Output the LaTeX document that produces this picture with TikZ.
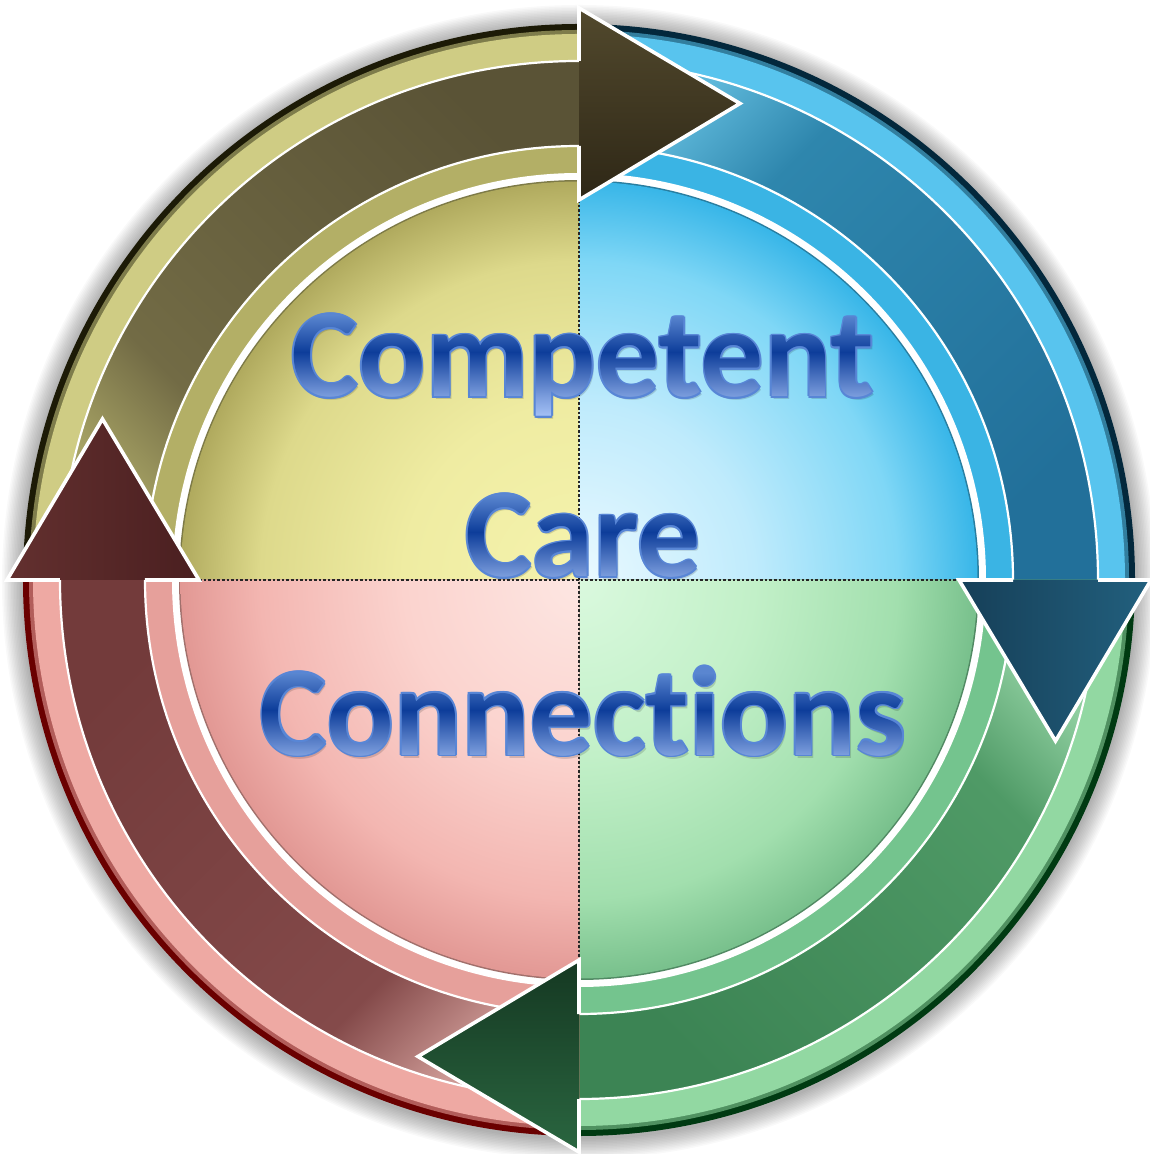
\documentclass[tikz,border=0pt]{standalone}
\usepackage{fontspec}
\setmainfont{Carlito}[Ligatures={NoCommon}]
\usetikzlibrary{fadings}

% quadrant palettes: rim, outer ring, inner band, shaft (start/body/end), head (base/tip), disc stops
\definecolor{rimTL}{HTML}{1C1A06}\definecolor{ringTL}{HTML}{CFCC84}\definecolor{bandTL}{HTML}{B3AF66}
\definecolor{shATL}{HTML}{A6A264}\definecolor{shMTL}{HTML}{726B45}\definecolor{shBTL}{HTML}{5A5336}
\definecolor{hdATL}{HTML}{52492D}\definecolor{hdBTL}{HTML}{2E2716}
\definecolor{dTLa}{HTML}{F5F3AD}\definecolor{dTLb}{HTML}{EFECA2}\definecolor{dTLc}{HTML}{DDD98B}\definecolor{dTLd}{HTML}{B0AA5E}

\definecolor{rimTR}{HTML}{03283C}\definecolor{ringTR}{HTML}{58C4EE}\definecolor{bandTR}{HTML}{3AB4E4}
\definecolor{shATR}{HTML}{5EB8DA}\definecolor{shMTR}{HTML}{2E86AD}\definecolor{shBTR}{HTML}{22709A}
\definecolor{hdATR}{HTML}{22607E}\definecolor{hdBTR}{HTML}{163F58}
\definecolor{dTRa}{HTML}{EAF9FF}\definecolor{dTRb}{HTML}{BFEBFC}\definecolor{dTRc}{HTML}{7FD7F6}\definecolor{dTRd}{HTML}{38B6E8}

\definecolor{rimBR}{HTML}{003A12}\definecolor{ringBR}{HTML}{92D8A2}\definecolor{bandBR}{HTML}{74C48E}
\definecolor{shABR}{HTML}{8ECE9F}\definecolor{shMBR}{HTML}{4F9A66}\definecolor{shBBR}{HTML}{3C8454}
\definecolor{hdABR}{HTML}{2A6640}\definecolor{hdBBR}{HTML}{153822}
\definecolor{dBRa}{HTML}{DAF9DE}\definecolor{dBRb}{HTML}{C2F0C8}\definecolor{dBRc}{HTML}{A2DFAE}\definecolor{dBRd}{HTML}{78C08C}

\definecolor{rimBL}{HTML}{6A0000}\definecolor{ringBL}{HTML}{EEA9A3}\definecolor{bandBL}{HTML}{E6A09B}
\definecolor{shABL}{HTML}{CC9894}\definecolor{shMBL}{HTML}{844A4A}\definecolor{shBBL}{HTML}{733B3B}
\definecolor{hdABL}{HTML}{63302F}\definecolor{hdBBL}{HTML}{4A1F20}
\definecolor{dBLa}{HTML}{FDE6E2}\definecolor{dBLb}{HTML}{FBD3CE}\definecolor{dBLc}{HTML}{F3B6B1}\definecolor{dBLd}{HTML}{E29894}

% title lettering
\definecolor{tdark}{HTML}{0D3D9A}
\definecolor{tlight}{HTML}{A8C4F8}
\definecolor{ttop}{HTML}{5A86D0}
\definecolor{tedge}{HTML}{5886D6}

% radial fills of the inner discs (the disc edge sits at 25bp)
\pgfdeclareradialshading{discTL}{\pgfpoint{0bp}{0bp}}{color(0bp)=(dTLa); color(11bp)=(dTLb); color(20bp)=(dTLc); color(25bp)=(dTLd); color(50bp)=(dTLd)}
\pgfdeclareradialshading{discTR}{\pgfpoint{0bp}{0bp}}{color(0bp)=(dTRa); color(11bp)=(dTRb); color(20bp)=(dTRc); color(25bp)=(dTRd); color(50bp)=(dTRd)}
\pgfdeclareradialshading{discBR}{\pgfpoint{0bp}{0bp}}{color(0bp)=(dBRa); color(11bp)=(dBRb); color(20bp)=(dBRc); color(25bp)=(dBRd); color(50bp)=(dBRd)}
\pgfdeclareradialshading{discBL}{\pgfpoint{0bp}{0bp}}{color(0bp)=(dBLa); color(11bp)=(dBLb); color(20bp)=(dBLc); color(25bp)=(dBLd); color(50bp)=(dBLd)}

% arrow shafts: light just after the previous head, then a steady body colour
\pgfdeclarehorizontalshading{shaftTL}{100bp}{color(0bp)=(shATL); color(25bp)=(shATL); color(36bp)=(shMTL); color(75bp)=(shBTL); color(100bp)=(shBTL)}
\pgfdeclarehorizontalshading{shaftTR}{100bp}{color(0bp)=(shATR); color(25bp)=(shATR); color(36bp)=(shMTR); color(75bp)=(shBTR); color(100bp)=(shBTR)}
\pgfdeclarehorizontalshading{shaftBR}{100bp}{color(0bp)=(shABR); color(25bp)=(shABR); color(36bp)=(shMBR); color(75bp)=(shBBR); color(100bp)=(shBBR)}
\pgfdeclarehorizontalshading{shaftBL}{100bp}{color(0bp)=(shABL); color(25bp)=(shABL); color(36bp)=(shMBL); color(75bp)=(shBBL); color(100bp)=(shBBL)}

% vertical ramp of the lettering; the 300-unit box spans 25bp..75bp, baseline at 50bp
\pgfdeclareverticalshading{letters}{100bp}{color(0bp)=(tlight); color(46.5bp)=(tlight); color(50bp)=(tdark!28!tlight); color(57.5bp)=(tdark); color(63.7bp)=(ttop); color(100bp)=(ttop)}

\tikzset{
  masktext/.style={anchor=base, inner sep=0pt, text=transparent!0,
    font=\fontsize{63}{63}\selectfont\bfseries},
}

% glyph masks, each with its baseline centre at the middle of its box
\begin{tikzfadingfrompicture}[name=fadeCompetent, x=0.5pt, y=0.5pt]
  \useasboundingbox (-700,-150) rectangle (700,150);
  \node[masktext] (competent) at (0,0) {Competent};
\end{tikzfadingfrompicture}
\begin{tikzfadingfrompicture}[name=fadeCare, x=0.5pt, y=0.5pt]
  \useasboundingbox (-700,-150) rectangle (700,150);
  \node[masktext] (care) at (0,0) {Care};
\end{tikzfadingfrompicture}
\begin{tikzfadingfrompicture}[name=fadeConnections, x=0.5pt, y=0.5pt]
  \useasboundingbox (-700,-150) rectangle (700,150);
  \node[masktext] (connections) at (0,0) {Connections};
\end{tikzfadingfrompicture}

% paints one line of lettering: shadow, thin edge, then the blue ramp
\newcommand{\lettering}[3]{%
  \fill[black, opacity=0.14, path fading=#1, fit fading=false,
        fading transform={shift={({#2+2},{#3-3})}}]
    ({#2+2-700},{#3-3-150}) rectangle ({#2+2+700},{#3-3+150});
  \foreach \dx/\dy in {1.6/0,-1.6/0,0/1.6,0/-1.6,1.1/1.1,-1.1/1.1,1.1/-1.1,-1.1/-1.1}
    \fill[tedge, path fading=#1, fit fading=false,
          fading transform={shift={({#2+\dx},{#3+\dy})}}]
      ({#2+\dx-700},{#3+\dy-150}) rectangle ({#2+\dx+700},{#3+\dy+150});
  \shade[shading=letters, path fading=#1, fit fading=false,
         fading transform={shift={(#2,#3)}}]
    ({#2-700},{#3-150}) rectangle ({#2+700},{#3+150});
}

\begin{document}
\begin{tikzpicture}[x=0.5pt,y=0.5pt,
  divider/.style={draw=black!85, line width=1.2pt, dash pattern=on 1.3pt off 1pt},
  headbox/.style={draw=white, line width=1.8pt, line join=miter},
  seam/.style={draw=white, line width=1.1pt},
]
\fill[white] (-579,-574) rectangle (570,580);
\useasboundingbox (-579,-574) rectangle (570,580);

% soft shadow round the disc
\foreach \i in {1,...,14}
  \fill[black, opacity=0.025] (0,-2) circle ({556+1.5*\i});

% the four quadrants: rim, rings, inner disc and the shaft of each arrow
\foreach \a/\q in {180/TL,90/TR,0/BR,270/BL} {
  \pgfmathsetmacro\sa{\a-135}
  \begin{scope}
    \clip (0,0) -- (\a:800) -- ({\a-45}:1132) -- ({\a-90}:800) -- cycle;
    \fill[rim\q] (0,0) circle (556);
    \fill[ring\q!55!rim\q] (0,0) circle (550);
    \fill[ring\q] (0,0) circle (546);
    \fill[band\q] (0,0) circle (433);
    \fill[white] (0,0) circle (407);
    \fill[band\q!70!black] (0,0) circle (400);
    \shade[shading=disc\q] (0,0) circle (398.5);
    \shade[shading=shaft\q, shading angle=\sa]
      (\a:434) -- (\a:519) arc[start angle=\a, end angle=\a-90, radius=519]
      -- ({\a-90}:434) arc[start angle=\a-90, end angle=\a, radius=434] -- cycle;
    \draw[seam] (\a:519) arc[start angle=\a, end angle=\a-90, radius=519];
    \draw[seam] (\a:434) arc[start angle=\a, end angle=\a-90, radius=434];
  \end{scope}
}

% dotted dividers between the quadrants
\coordinate (west) at (-380,0);
\coordinate (east) at (380,0);
\coordinate (north) at (0,380);
\coordinate (south) at (0,-380);
\draw[divider] (west) -- (east);
\draw[divider] (north) -- (south);

% arrow heads, each reaching into the next quadrant
\foreach \a/\q in {180/TL,90/TR,0/BR,270/BL} {
  \pgfmathsetmacro\ha{\a-180}
  \shadedraw[headbox, left color=hdA\q, right color=hdB\q, shading angle=\ha]
    ({\a-90}:519) -- ({\a-90}:572) -- ({\a-108.67}:503) -- ({\a-90}:380) -- ({\a-90}:434);
}

% title
\lettering{fadeCompetent}{4}{183}
\lettering{fadeCare}{4}{3}
\lettering{fadeConnections}{4}{-175}
\end{tikzpicture}
\end{document}
